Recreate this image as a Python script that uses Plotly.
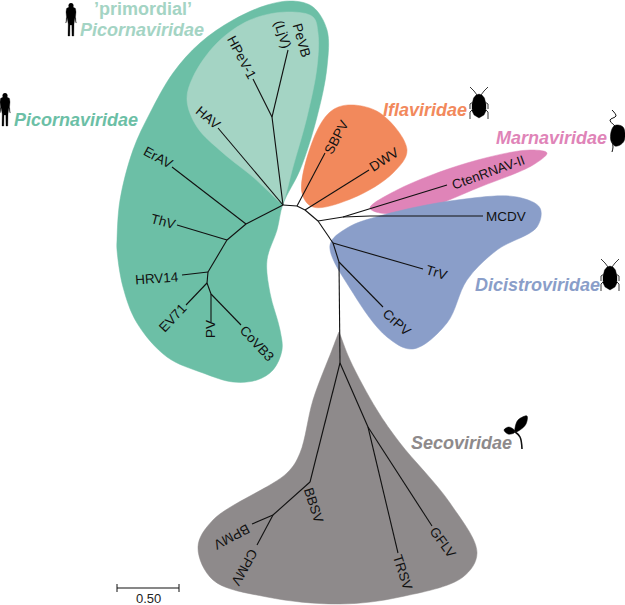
import plotly.graph_objects as go

GREEN, LGREEN, ORANGE, PINK, BLUE, GRAY = "#6cbfa6", "#a4d4c4", "#f2895c", "#df84b8", "#8a9ec9", "#8e8a8b"

picorna_x = [293,313,327,327,317,300,283,277,267,270,280,282,273,257,233,203,167,137,123,117,117,120,133,150,173,200,233,267]
picorna_y = [1,7,30,67,117,170,204,230,260,293,330,350,370,380,382,373,357,323,287,250,240,200,150,113,73,43,20,5]
primordial_x = [287,313,318,317,307,293,284,282,267,253,223,197,187,193,217,250]
primordial_y = [12,17,33,67,117,167,200,203,190,177,153,127,100,77,43,20]
ifla_x = [348,380,407,393,353,313,302,313,330]
ifla_y = [105,113,150,173,198,207,193,140,112]
marna_x = [370,397,467,530,547,533,480,420,380]
marna_y = [208,190,163,150,153,165,187,210,213]
dici_x = [517,540,537,497,467,447,413,387,353,330,347,383,457]
dici_y = [197,208,227,250,280,323,349,337,293,245,228,215,200]
seco_x = [339,339.5,350,377,400,450,477,463,400,340,267,213,198,213,287,300,313,332,338.5,339]
seco_y = [332,333,360,410,443,503,553,577,597,604,597,580,547,520,473,453,400,350,333,332]

branches = [
    [(283,205),(246,224)], [(246,224),(172,167)], [(246,224),(227,240)], [(227,240),(177,225)],
    [(227,240),(208,272)], [(208,272),(182,275)], [(208,272),(207,283)], [(207,283),(186,305)],
    [(207,283),(211,294)], [(211,294),(211,322)], [(211,294),(241,325)], [(283,205),(218,128)],
    [(283,205),(272,117)], [(272,117),(253,79)], [(272,117),(288,50)], [(283,205),(297,206)],
    [(297,206),(325,153)], [(297,206),(305,210)], [(305,210),(369,170)], [(305,210),(318,221)],
    [(318,221),(343,217)], [(343,217),(447,185)], [(343,217),(370,216),(483,216)], [(318,221),(333,243)],
    [(333,243),(423,269)], [(333,243),(339,262)], [(339,262),(383,307)], [(339,262),(340,363)],
    [(340,363),(310,482)], [(340,363),(368,427)], [(368,427),(398,553)], [(368,427),(432,526)],
    [(310,482),(273,515)], [(273,515),(252,524)], [(273,515),(257,545)],
]

taxa = ["PeVB","(LjV)","HPeV-1","HAV","ErAV","ThV","HRV14","EV71","PV","CoVB3","SBPV","DWV","CtenRNAV-II","MCDV","TrV","CrPV","BBSV","BPMV","CPMV","TRSV","GFLV"]
taxa_x = [302,283,242,208,158,163,157,172,210,257,336,384,488,506,436,397,314,232,245,403,443]
taxa_y = [40,34,57,117,157,221,278,318,329,343,137,159,172,216,272,322,505,537,567,572,542]
taxa_angle = [74,72,62,40,28,15,-4,-47,-90,47,-62,-33,-20,0,17,42,72,152,119,72,54]

families = ["<b>\u2019primordial\u2019</b>","<b><i>Picornaviridae</i></b>","<b><i>Picornaviridae</i></b>","<b><i>Iflaviridae</i></b>","<b><i>Marnaviridae</i></b>","<b><i>Dicistroviridae</i></b>","<b><i>Secoviridae</i></b>"]
family_x = [143,142,76,425,551,537,461.5]
family_y = [9,30,120,110,138,285,443]
family_color = [LGREEN,LGREEN,GREEN,ORANGE,PINK,BLUE,GRAY]

person_x = [0,1.5,2,4.5,5,4.5,5.2,5,3.8,3,2.8,1,0.8,-1,-1.2,-3,-2.8,-3.8,-5,-5.2,-4.5,-5,-4.5,-2,-1.5]
person_y = [0,0.5,3,4.5,8,13,19,19,14,20,32,32,21,21,32,32,20,14,19,19,13,8,4.5,3,0.5]
person_origins = [(71,4),(5,94)]

bug_x = [0,3,5.5,7,7,5,0,-5,-7,-7,-5.5,-3]
bug_y = [0,1,4,10,17,21,24,21,17,10,4,1]
bug_origins = [(479,94),(610,266)]
bug_legs = [[(-2,1),(-5,-3),(-9,-7)],[(2,1),(5,-3),(9,-7)],[(-6,8),(-9,10),(-9,15)],[(6,8),(9,10),(9,15)],
            [(-6,15),(-9,18),(-9,25)],[(6,15),(9,18),(9,25)]]

marna_body_x = [618,623,625,624,620,615,611,611,614]
marna_body_y = [125,127,133,141,145,146,141,132,126]
marna_tail1 = [(615,126),(610,120),(616,116),(612,110)]
marna_tail2 = [(612,141),(613,147),(612,152)]

leaf1_x = [515,518,527,526,520,515]
leaf1_y = [428,420,416,424,430,432]
leaf2_x = [504,509,515,514,508]
leaf2_y = [430,427,431,433,434]
stem = [(514,431),(520,437),(522,449)]

scale_x, scale_y = [117,179], [588,588]
scale_label = "0.50"

fig = go.Figure()

def blob(xs, ys, color):
    fig.add_trace(go.Scatter(x=xs+xs[:1], y=ys+ys[:1], mode="lines", fill="toself", fillcolor=color,
                             line=dict(color=color, width=0.5, shape="spline", smoothing=1.0), hoverinfo="skip"))

def poly(xs, ys, color="black"):
    fig.add_trace(go.Scatter(x=xs+xs[:1], y=ys+ys[:1], mode="lines", fill="toself", fillcolor=color,
                             line=dict(color=color, width=0.3), hoverinfo="skip"))

def stroke(pts, width=1.1, color="#111111", smooth=False):
    fig.add_trace(go.Scatter(x=[p[0] for p in pts], y=[p[1] for p in pts], mode="lines",
                             line=dict(color=color, width=width, shape="spline" if smooth else "linear"), hoverinfo="skip"))

blob(picorna_x, picorna_y, GREEN)
blob(primordial_x, primordial_y, LGREEN)
blob(ifla_x, ifla_y, ORANGE)
blob(marna_x, marna_y, PINK)
blob(dici_x, dici_y, BLUE)
blob(seco_x, seco_y, GRAY)

for b in branches:
    stroke(b)

for ox, oy in person_origins:
    poly([ox+v for v in person_x], [oy+v for v in person_y])
fig.add_trace(go.Scatter(x=[o[0] for o in person_origins], y=[o[1]+1.5 for o in person_origins], mode="markers",
                         marker=dict(color="black", size=5), hoverinfo="skip"))
for ox, oy in bug_origins:
    poly([ox+v for v in bug_x], [oy+v for v in bug_y])
    for leg in bug_legs:
        stroke([(ox+a, oy+c) for a, c in leg], width=0.9, color="#222222")
blob(marna_body_x, marna_body_y, "black")
stroke(marna_tail1, width=1.0, smooth=True)
stroke(marna_tail2, width=1.0, smooth=True)
blob(leaf1_x, leaf1_y, "black")
blob(leaf2_x, leaf2_y, "black")
stroke(stem, width=1.6, smooth=True)

stroke(list(zip(scale_x, scale_y)), width=1.1)
stroke([(scale_x[0],584),(scale_x[0],592)], width=1.0)
stroke([(scale_x[1],584),(scale_x[1],592)], width=1.0)

ann = []
for t, x, y, a in zip(taxa, taxa_x, taxa_y, taxa_angle):
    ann.append(dict(x=x, y=y, text=t, textangle=a, showarrow=False, xanchor="center", yanchor="middle",
                    font=dict(family="Liberation Sans", size=13.5, color="#111111")))
for t, x, y, c in zip(families, family_x, family_y, family_color):
    ann.append(dict(x=x, y=y, text=t, showarrow=False, xanchor="center", yanchor="middle",
                    font=dict(family="Liberation Sans", size=18, color=c)))
ann.append(dict(x=148, y=598, text=scale_label, showarrow=False, font=dict(family="Liberation Sans", size=13, color="#222222")))

fig.update_layout(width=625, height=605, margin=dict(l=0, r=0, t=0, b=0), showlegend=False,
                  plot_bgcolor="white", paper_bgcolor="white", annotations=ann,
                  xaxis=dict(range=[0,625], visible=False, fixedrange=True),
                  yaxis=dict(range=[605,0], visible=False, fixedrange=True))
fig.write_html("out.html", config=dict(displayModeBar=False),
               post_script="document.body.style.margin='0';document.body.style.overflow='hidden';")
